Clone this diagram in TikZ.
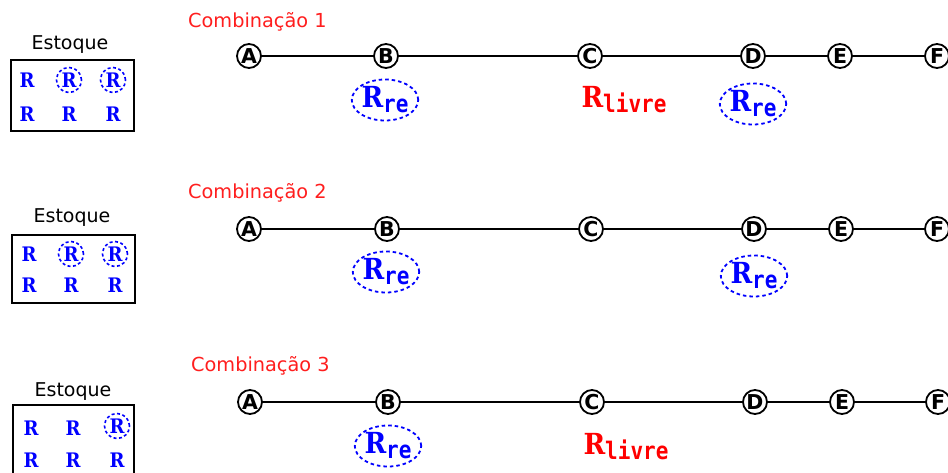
\documentclass[tikz,border=0pt]{standalone}
\usepackage{fontspec}
\usepackage{graphicx}
\newfontfamily\dvsans{DejaVu Sans}
\newfontfamily\dvmono{DejaVu Sans Mono}
\newfontfamily\dvserifc{DejaVu Serif Condensed}
\usetikzlibrary{shapes.geometric}
\definecolor{rblue}{RGB}{0,0,255}
\definecolor{rred}{RGB}{255,0,0}
\definecolor{tred}{RGB}{255,30,30}
\newcommand\boxR{{\fontsize{20}{20}\dvserifc\bfseries R}}
\newcommand\bigRsub[1]{{\fontsize{29}{29}\dvserifc\bfseries R}\raisebox{-5pt}{\scalebox{1}[1.15]{\fontsize{21}{21}\dvmono\bfseries #1}}}
\tikzset{
  stop/.style={circle,draw,line width=1.8pt,inner sep=0pt,minimum size=24pt,font=\fontsize{20.5}{20.5}\dvsans\bfseries},
  stockbox/.style={draw,line width=1.6pt,inner sep=0pt},
  rr/.style={text=rblue,inner sep=0pt},
  rring/.style={rr,circle,draw=rblue,line width=1.6pt,dash pattern=on 3pt off 2.5pt,minimum size=25pt},
  combtitle/.style={text=tred,font=\fontsize{19.3}{19.3}\dvsans,anchor=west,inner sep=0pt},
  stocklab/.style={font=\fontsize{19}{19}\dvsans,inner sep=0pt},
  rre/.style={ellipse,draw=rblue,line width=1.8pt,dash pattern=on 3.5pt off 3pt,minimum width=63pt,minimum height=41pt,inner sep=0pt,text=rblue},
  rlivre/.style={text=rred,inner sep=0pt},
  route/.style={line width=1.8pt}
}
\begin{document}
\begin{tikzpicture}[x=1pt,y=-1pt]
\clip (0,0) rectangle (948,473);
\fill[white] (0,0) rectangle (948,473);
% ---------- Row 1
\node[combtitle] (T1) at (188,22) {Combinação 1};
\node[stocklab] (L1) at (70,45) {Estoque};
\node[stockbox,minimum width=123pt,minimum height=71pt] (S1) at (72.5,95.5) {};
\node[rr] (s1a) at (27,80) {\boxR};
\node[rring] (s1b) at (69,80) {\boxR};
\node[rring] (s1c) at (113,80) {\boxR};
\node[rr] (s1d) at (27,114) {\boxR};
\node[rr] (s1e) at (69,114) {\boxR};
\node[rr] (s1f) at (113,114) {\boxR};
\node[stop] (A1) at (249,56) {A};
\node[stop] (B1) at (386,56) {B};
\node[stop] (C1) at (590,56) {C};
\node[stop] (D1) at (753,56) {D};
\node[stop] (E1) at (840,56) {E};
\node[stop] (F1) at (937,56) {F};
\draw[route] (A1) -- (B1) -- (C1) -- (D1) -- (E1) -- (F1);
\node[rre] (rb1) at (385,100) {\bigRsub{re}};
\node[rlivre] (rc1) at (624,100) {\bigRsub{livre}};
\node[rre] (rd1) at (753,104) {\bigRsub{re}};
% ---------- Row 2
\node[combtitle] (T2) at (188,193) {Combinação 2};
\node[stocklab] (L2) at (72,218) {Estoque};
\node[stockbox,minimum width=123pt,minimum height=68pt] (S2) at (73.5,269) {};
\node[rr] (s2a) at (29,254) {\boxR};
\node[rring] (s2b) at (71,254) {\boxR};
\node[rring] (s2c) at (115,254) {\boxR};
\node[rr] (s2d) at (29,285) {\boxR};
\node[rr] (s2e) at (71,285) {\boxR};
\node[rr] (s2f) at (115,285) {\boxR};
\node[stop] (A2) at (249,229) {A};
\node[stop] (B2) at (387,229) {B};
\node[stop] (C2) at (591,229) {C};
\node[stop] (D2) at (754,229) {D};
\node[stop] (E2) at (841,229) {E};
\node[stop] (F2) at (937,229) {F};
\draw[route] (A2) -- (B2) -- (C2) -- (D2) -- (E2) -- (F2);
\node[rre] (rb2) at (386,272) {\bigRsub{re}};
\node[rre] (rd2) at (754,276) {\bigRsub{re}};
% ---------- Row 3
\node[combtitle] (T3) at (191,366) {Combinação 3};
\node[stocklab] (L3) at (73,392) {Estoque};
\node[stockbox,minimum width=121pt,minimum height=74pt] (S3) at (73.5,442) {};
\node[rr] (s3a) at (31,428) {\boxR};
\node[rr] (s3b) at (73,428) {\boxR};
\node[rring] (s3c) at (117,426) {\boxR};
\node[rr] (s3d) at (31,460) {\boxR};
\node[rr] (s3e) at (73,460) {\boxR};
\node[rr] (s3f) at (117,460) {\boxR};
\node[stop] (A3) at (250,402) {A};
\node[stop] (B3) at (388,402) {B};
\node[stop] (C3) at (592,402) {C};
\node[stop] (D3) at (755,402) {D};
\node[stop] (E3) at (842,402) {E};
\node[stop] (F3) at (938,402) {F};
\draw[route] (A3) -- (B3) -- (C3) -- (D3) -- (E3) -- (F3);
\node[rre] (rb3) at (388,446) {\bigRsub{re}};
\node[rlivre] (rc3) at (626,447) {\bigRsub{livre}};
\end{tikzpicture}
\end{document}
